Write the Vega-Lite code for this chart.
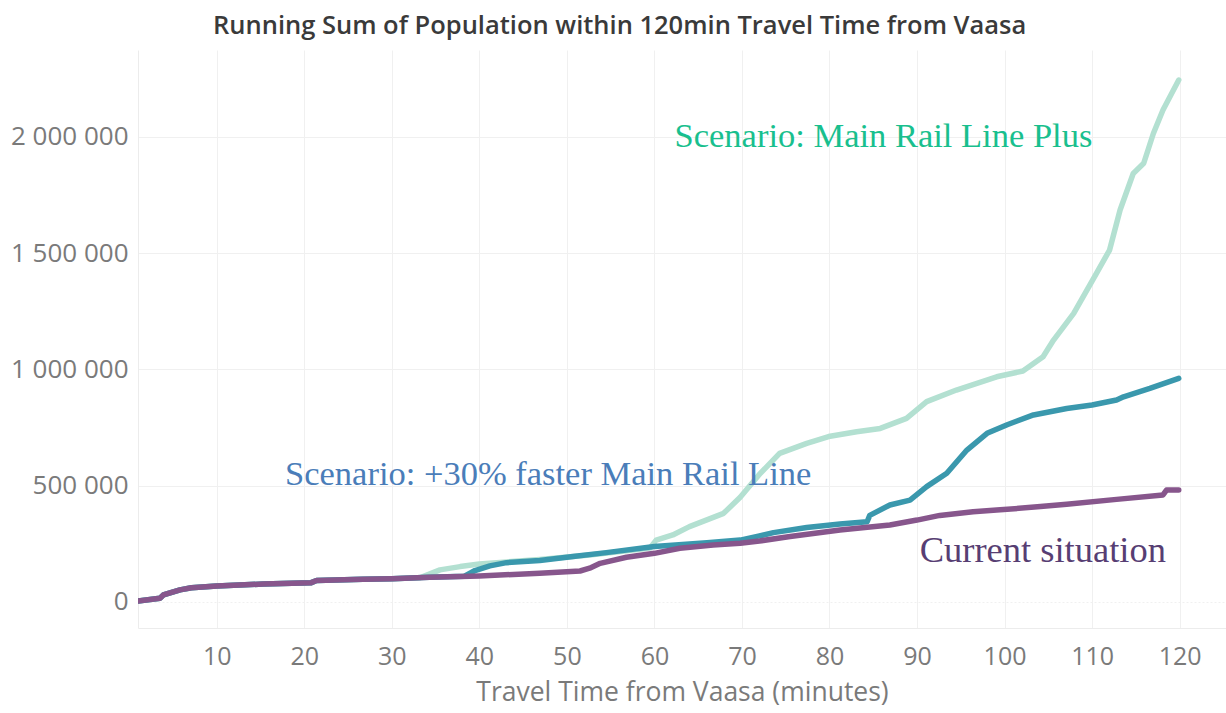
{
  "$schema": "https://vega.github.io/schema/vega-lite/v6.json",
  "width": 1088,
  "height": 578,
  "autosize": {"type": "none"},
  "padding": {"left": 138, "top": 50, "right": 0, "bottom": 85},
  "background": "white",
  "config": {
    "locale": {"number": {"decimal": ".", "thousands": " ", "grouping": [3], "currency": ["", ""]}},
    "view": {"stroke": null},
    "font": "Open Sans"
  },
  "title": {
    "text": "Running Sum of Population within 120min Travel Time from Vaasa",
    "anchor": "start",
    "frame": "group",
    "dx": 75,
    "dy": 26,
    "offset": 17,
    "baseline": "alphabetic",
    "font": "Open Sans",
    "fontSize": 25.5,
    "fontWeight": 600,
    "color": "#3a3a3a"
  },
  "datasets": {
    "lines": [
      {"s": "Scenario: Main Rail Line Plus", "t": 1.0, "pop": 4300},
      {"s": "Scenario: Main Rail Line Plus", "t": 3.5, "pop": 16000},
      {"s": "Scenario: Main Rail Line Plus", "t": 3.9, "pop": 30000},
      {"s": "Scenario: Main Rail Line Plus", "t": 5.8, "pop": 52000},
      {"s": "Scenario: Main Rail Line Plus", "t": 7.1, "pop": 61000},
      {"s": "Scenario: Main Rail Line Plus", "t": 10, "pop": 69000},
      {"s": "Scenario: Main Rail Line Plus", "t": 15.3, "pop": 77000},
      {"s": "Scenario: Main Rail Line Plus", "t": 20.8, "pop": 83000},
      {"s": "Scenario: Main Rail Line Plus", "t": 21.4, "pop": 92000},
      {"s": "Scenario: Main Rail Line Plus", "t": 26.7, "pop": 97500},
      {"s": "Scenario: Main Rail Line Plus", "t": 30, "pop": 100000},
      {"s": "Scenario: Main Rail Line Plus", "t": 33.2, "pop": 104000},
      {"s": "Scenario: Main Rail Line Plus", "t": 35.5, "pop": 138000},
      {"s": "Scenario: Main Rail Line Plus", "t": 37.8, "pop": 152000},
      {"s": "Scenario: Main Rail Line Plus", "t": 40, "pop": 163000},
      {"s": "Scenario: Main Rail Line Plus", "t": 46.9, "pop": 183000},
      {"s": "Scenario: Main Rail Line Plus", "t": 52.6, "pop": 202000},
      {"s": "Scenario: Main Rail Line Plus", "t": 58.3, "pop": 226000},
      {"s": "Scenario: Main Rail Line Plus", "t": 59.5, "pop": 232000},
      {"s": "Scenario: Main Rail Line Plus", "t": 60.2, "pop": 266000},
      {"s": "Scenario: Main Rail Line Plus", "t": 62.1, "pop": 288000},
      {"s": "Scenario: Main Rail Line Plus", "t": 64, "pop": 324000},
      {"s": "Scenario: Main Rail Line Plus", "t": 67.9, "pop": 381000},
      {"s": "Scenario: Main Rail Line Plus", "t": 69.8, "pop": 450000},
      {"s": "Scenario: Main Rail Line Plus", "t": 72.1, "pop": 553000},
      {"s": "Scenario: Main Rail Line Plus", "t": 74.3, "pop": 639000},
      {"s": "Scenario: Main Rail Line Plus", "t": 77.4, "pop": 682000},
      {"s": "Scenario: Main Rail Line Plus", "t": 79.9, "pop": 711000},
      {"s": "Scenario: Main Rail Line Plus", "t": 83.1, "pop": 732000},
      {"s": "Scenario: Main Rail Line Plus", "t": 85.8, "pop": 746000},
      {"s": "Scenario: Main Rail Line Plus", "t": 88.8, "pop": 789000},
      {"s": "Scenario: Main Rail Line Plus", "t": 91.1, "pop": 861000},
      {"s": "Scenario: Main Rail Line Plus", "t": 94.5, "pop": 911000},
      {"s": "Scenario: Main Rail Line Plus", "t": 99.1, "pop": 968000},
      {"s": "Scenario: Main Rail Line Plus", "t": 102.1, "pop": 993000},
      {"s": "Scenario: Main Rail Line Plus", "t": 104.4, "pop": 1054000},
      {"s": "Scenario: Main Rail Line Plus", "t": 105.6, "pop": 1126000},
      {"s": "Scenario: Main Rail Line Plus", "t": 107.9, "pop": 1241000},
      {"s": "Scenario: Main Rail Line Plus", "t": 110.5, "pop": 1413000},
      {"s": "Scenario: Main Rail Line Plus", "t": 112, "pop": 1513000},
      {"s": "Scenario: Main Rail Line Plus", "t": 113.2, "pop": 1685000},
      {"s": "Scenario: Main Rail Line Plus", "t": 114.7, "pop": 1842000},
      {"s": "Scenario: Main Rail Line Plus", "t": 115.9, "pop": 1886000},
      {"s": "Scenario: Main Rail Line Plus", "t": 117, "pop": 2014000},
      {"s": "Scenario: Main Rail Line Plus", "t": 118.1, "pop": 2115000},
      {"s": "Scenario: Main Rail Line Plus", "t": 119.9, "pop": 2244000},

      {"s": "Scenario: +30% faster Main Rail Line", "t": 1.0, "pop": 4300},
      {"s": "Scenario: +30% faster Main Rail Line", "t": 3.5, "pop": 16000},
      {"s": "Scenario: +30% faster Main Rail Line", "t": 3.9, "pop": 30000},
      {"s": "Scenario: +30% faster Main Rail Line", "t": 5.8, "pop": 52000},
      {"s": "Scenario: +30% faster Main Rail Line", "t": 7.1, "pop": 61000},
      {"s": "Scenario: +30% faster Main Rail Line", "t": 10, "pop": 69000},
      {"s": "Scenario: +30% faster Main Rail Line", "t": 15.3, "pop": 77000},
      {"s": "Scenario: +30% faster Main Rail Line", "t": 20.8, "pop": 83000},
      {"s": "Scenario: +30% faster Main Rail Line", "t": 21.4, "pop": 92000},
      {"s": "Scenario: +30% faster Main Rail Line", "t": 26.7, "pop": 97500},
      {"s": "Scenario: +30% faster Main Rail Line", "t": 30, "pop": 100000},
      {"s": "Scenario: +30% faster Main Rail Line", "t": 34.3, "pop": 106000},
      {"s": "Scenario: +30% faster Main Rail Line", "t": 38.3, "pop": 111000},
      {"s": "Scenario: +30% faster Main Rail Line", "t": 39.5, "pop": 135000},
      {"s": "Scenario: +30% faster Main Rail Line", "t": 41.2, "pop": 155000},
      {"s": "Scenario: +30% faster Main Rail Line", "t": 43.1, "pop": 169000},
      {"s": "Scenario: +30% faster Main Rail Line", "t": 46.9, "pop": 178000},
      {"s": "Scenario: +30% faster Main Rail Line", "t": 50.7, "pop": 195000},
      {"s": "Scenario: +30% faster Main Rail Line", "t": 54.5, "pop": 212000},
      {"s": "Scenario: +30% faster Main Rail Line", "t": 60, "pop": 238000},
      {"s": "Scenario: +30% faster Main Rail Line", "t": 66, "pop": 255000},
      {"s": "Scenario: +30% faster Main Rail Line", "t": 69.8, "pop": 266000},
      {"s": "Scenario: +30% faster Main Rail Line", "t": 72, "pop": 284000},
      {"s": "Scenario: +30% faster Main Rail Line", "t": 73.6, "pop": 298000},
      {"s": "Scenario: +30% faster Main Rail Line", "t": 77.4, "pop": 320000},
      {"s": "Scenario: +30% faster Main Rail Line", "t": 81.2, "pop": 335000},
      {"s": "Scenario: +30% faster Main Rail Line", "t": 84.3, "pop": 345000},
      {"s": "Scenario: +30% faster Main Rail Line", "t": 84.6, "pop": 372000},
      {"s": "Scenario: +30% faster Main Rail Line", "t": 86.9, "pop": 417000},
      {"s": "Scenario: +30% faster Main Rail Line", "t": 89.2, "pop": 438000},
      {"s": "Scenario: +30% faster Main Rail Line", "t": 91.1, "pop": 496000},
      {"s": "Scenario: +30% faster Main Rail Line", "t": 93.4, "pop": 553000},
      {"s": "Scenario: +30% faster Main Rail Line", "t": 95.7, "pop": 653000},
      {"s": "Scenario: +30% faster Main Rail Line", "t": 98, "pop": 725000},
      {"s": "Scenario: +30% faster Main Rail Line", "t": 100.3, "pop": 762000},
      {"s": "Scenario: +30% faster Main Rail Line", "t": 103.3, "pop": 804000},
      {"s": "Scenario: +30% faster Main Rail Line", "t": 107.1, "pop": 832000},
      {"s": "Scenario: +30% faster Main Rail Line", "t": 110, "pop": 847000},
      {"s": "Scenario: +30% faster Main Rail Line", "t": 112.8, "pop": 868000},
      {"s": "Scenario: +30% faster Main Rail Line", "t": 113.6, "pop": 882000},
      {"s": "Scenario: +30% faster Main Rail Line", "t": 116.6, "pop": 918000},
      {"s": "Scenario: +30% faster Main Rail Line", "t": 119.9, "pop": 961000},

      {"s": "Current situation", "t": 1.0, "pop": 4300},
      {"s": "Current situation", "t": 3.5, "pop": 16000},
      {"s": "Current situation", "t": 3.9, "pop": 30000},
      {"s": "Current situation", "t": 5.8, "pop": 52000},
      {"s": "Current situation", "t": 7.1, "pop": 61000},
      {"s": "Current situation", "t": 10, "pop": 69000},
      {"s": "Current situation", "t": 15.3, "pop": 77000},
      {"s": "Current situation", "t": 20.8, "pop": 83000},
      {"s": "Current situation", "t": 21.4, "pop": 92000},
      {"s": "Current situation", "t": 26.7, "pop": 97500},
      {"s": "Current situation", "t": 30, "pop": 100000},
      {"s": "Current situation", "t": 34.3, "pop": 106000},
      {"s": "Current situation", "t": 37.8, "pop": 109000},
      {"s": "Current situation", "t": 40, "pop": 112000},
      {"s": "Current situation", "t": 46.9, "pop": 123000},
      {"s": "Current situation", "t": 51.5, "pop": 133000},
      {"s": "Current situation", "t": 52.6, "pop": 145000},
      {"s": "Current situation", "t": 53.8, "pop": 166000},
      {"s": "Current situation", "t": 56.8, "pop": 192000},
      {"s": "Current situation", "t": 60, "pop": 209000},
      {"s": "Current situation", "t": 62.9, "pop": 231000},
      {"s": "Current situation", "t": 66.7, "pop": 245000},
      {"s": "Current situation", "t": 69.8, "pop": 252000},
      {"s": "Current situation", "t": 72, "pop": 262000},
      {"s": "Current situation", "t": 75.5, "pop": 281000},
      {"s": "Current situation", "t": 81.2, "pop": 309000},
      {"s": "Current situation", "t": 86.9, "pop": 331000},
      {"s": "Current situation", "t": 90, "pop": 352000},
      {"s": "Current situation", "t": 92.6, "pop": 372000},
      {"s": "Current situation", "t": 96.4, "pop": 388000},
      {"s": "Current situation", "t": 99.5, "pop": 396000},
      {"s": "Current situation", "t": 104.1, "pop": 410000},
      {"s": "Current situation", "t": 107.1, "pop": 420000},
      {"s": "Current situation", "t": 112.8, "pop": 441000},
      {"s": "Current situation", "t": 118.1, "pop": 460000},
      {"s": "Current situation", "t": 118.5, "pop": 481000},
      {"s": "Current situation", "t": 119.9, "pop": 481000}
    ],
    "labels": [
      {"label": "Scenario: Main Rail Line Plus", "t": 62.3, "pop": 1955000},
      {"label": "Scenario: +30% faster Main Rail Line", "t": 17.8, "pop": 503000},
      {"label": "Current situation", "t": 90.3, "pop": 173000}
    ]
  },
  "layer": [
    {
      "data": {"name": "lines"},
      "mark": {"type": "line", "strokeWidth": 5.5, "strokeCap": "round", "strokeJoin": "round", "clip": true},
      "encoding": {
        "x": {
          "field": "t", "type": "quantitative",
          "scale": {"domain": [1, 125.3], "nice": false, "zero": false},
          "axis": {
            "title": "Travel Time from Vaasa (minutes)",
            "values": [10, 20, 30, 40, 50, 60, 70, 80, 90, 100, 110, 120],
            "grid": true, "gridColor": "#f0f0f0", "gridWidth": 1,
            "domain": true, "domainColor": "#ececec",
            "ticks": false,
            "labelFont": "Open Sans", "labelFontSize": 25, "labelColor": "#7a7a7a",
            "labelPadding": 16,
            "titleFont": "Open Sans", "titleFontSize": 26.5, "titleFontWeight": "normal", "titleColor": "#7a7a7a",
            "titlePadding": 10
          }
        },
        "y": {
          "field": "pop", "type": "quantitative",
          "scale": {"domain": [-112000, 2373000], "nice": false, "zero": false},
          "axis": {
            "title": null,
            "values": [0, 500000, 1000000, 1500000, 2000000],
            "format": ",d",
            "grid": true, "gridColor": "#f0f0f0", "gridWidth": 1,
            "gridDash": {"condition": {"test": "datum.value === 0", "value": [2, 2]}, "value": []},
            "domain": true, "domainColor": "#ececec",
            "ticks": false,
            "labelFont": "Open Sans", "labelFontSize": 26, "labelColor": "#7a7a7a",
            "labelPadding": 10
          }
        },
        "color": {
          "field": "s", "type": "nominal",
          "scale": {
            "domain": ["Scenario: Main Rail Line Plus", "Scenario: +30% faster Main Rail Line", "Current situation"],
            "range": ["#b3e0d1", "#3a98ad", "#87568c"]
          },
          "legend": null
        }
      }
    },
    {
      "data": {"name": "labels"},
      "transform": [{"filter": "datum.label === 'Scenario: Main Rail Line Plus'"}],
      "mark": {"type": "text", "align": "left", "baseline": "alphabetic", "font": "Liberation Serif", "fontSize": 34.5, "color": "#19bf8e"},
      "encoding": {
        "x": {"field": "t", "type": "quantitative"},
        "y": {"field": "pop", "type": "quantitative"},
        "text": {"field": "label"}
      }
    },
    {
      "data": {"name": "labels"},
      "transform": [{"filter": "datum.label === 'Scenario: +30% faster Main Rail Line'"}],
      "mark": {"type": "text", "align": "left", "baseline": "alphabetic", "font": "Liberation Serif", "fontSize": 34.5, "color": "#4a7db9"},
      "encoding": {
        "x": {"field": "t", "type": "quantitative"},
        "y": {"field": "pop", "type": "quantitative"},
        "text": {"field": "label"}
      }
    },
    {
      "data": {"name": "labels"},
      "transform": [{"filter": "datum.label === 'Current situation'"}],
      "mark": {"type": "text", "align": "left", "baseline": "alphabetic", "font": "Liberation Serif", "fontSize": 36.5, "color": "#573e73"},
      "encoding": {
        "x": {"field": "t", "type": "quantitative"},
        "y": {"field": "pop", "type": "quantitative"},
        "text": {"field": "label"}
      }
    }
  ]
}
